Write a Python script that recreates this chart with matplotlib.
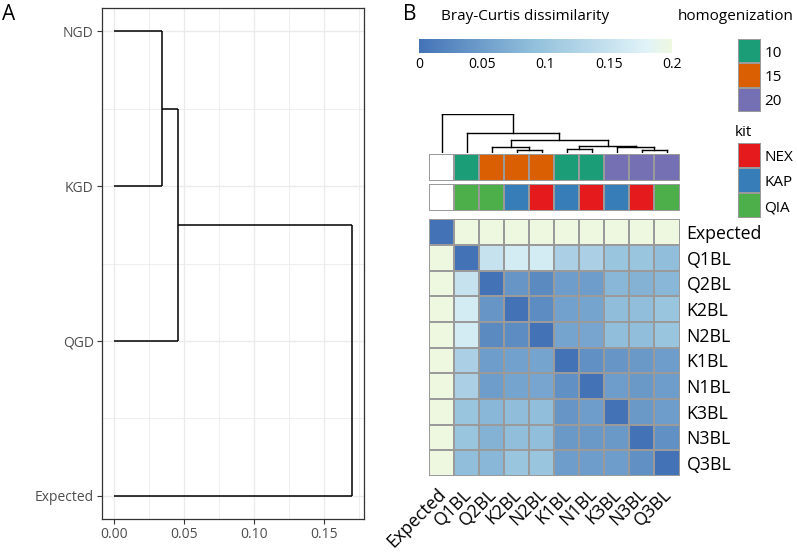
import numpy as np
import matplotlib
matplotlib.use("Agg")
import matplotlib.pyplot as plt
from matplotlib.colors import LinearSegmentedColormap, ListedColormap, Normalize, BoundaryNorm
from matplotlib.transforms import ScaledTranslation

# ------------------------------------------------------------------ data
# Panel A: group dendrogram (leaves bottom -> top)
group_labels = ["Expected", "QGD", "KGD", "NGD"]
group_merges = [(3, 2, 0.0341), (4, 1, 0.0459), (5, 0, 0.1702)]
group_xticks = [0.00, 0.05, 0.10, 0.15]
group_xticklabels = ["0.00", "0.05", "0.10", "0.15"]

# Panel B: sample dissimilarity heatmap (display order)
sample_labels = ["Expected", "Q1BL", "Q2BL", "K2BL", "N2BL",
                 "K1BL", "N1BL", "K3BL", "N3BL", "Q3BL"]
row_expected = [0.00, 0.23, 0.23, 0.23, 0.23, 0.23, 0.23, 0.23, 0.23, 0.23]
row_q1bl     = [0.23, 0.00, 0.150, 0.165, 0.165, 0.120, 0.120, 0.100, 0.100, 0.090]
row_q2bl     = [0.23, 0.150, 0.00, 0.040, 0.028, 0.050, 0.050, 0.080, 0.075, 0.080]
row_k2bl     = [0.23, 0.165, 0.040, 0.00, 0.030, 0.055, 0.058, 0.088, 0.090, 0.100]
row_n2bl     = [0.23, 0.165, 0.028, 0.030, 0.00, 0.058, 0.060, 0.090, 0.090, 0.100]
row_k1bl     = [0.23, 0.120, 0.050, 0.055, 0.058, 0.00, 0.035, 0.040, 0.045, 0.050]
row_n1bl     = [0.23, 0.120, 0.050, 0.058, 0.060, 0.035, 0.00, 0.050, 0.045, 0.050]
row_k3bl     = [0.23, 0.100, 0.080, 0.088, 0.090, 0.040, 0.050, 0.00, 0.045, 0.050]
row_n3bl     = [0.23, 0.100, 0.075, 0.090, 0.090, 0.045, 0.045, 0.045, 0.00, 0.035]
row_q3bl     = [0.23, 0.090, 0.080, 0.100, 0.100, 0.050, 0.050, 0.050, 0.035, 0.00]

# column dendrogram merges: (child a, child b, height); leaves 0..9, new nodes 10..
sample_merges = [(3, 4, 0.0155), (2, 10, 0.029), (8, 9, 0.0155), (7, 12, 0.029),
                 (5, 6, 0.021), (14, 13, 0.038), (11, 15, 0.068), (1, 16, 0.108),
                 (0, 17, 0.210)]

homogenization = [None, "10", "15", "15", "15", "10", "10", "20", "20", "20"]
kit = [None, "QIA", "QIA", "KAP", "NEX", "KAP", "NEX", "KAP", "NEX", "QIA"]
homog_levels = ["10", "15", "20"]
homog_colors = ["#1B9E77", "#D95F02", "#7570B3"]
kit_levels = ["NEX", "KAP", "QIA"]
kit_colors = ["#E41A1C", "#377EB8", "#4DAF4A"]

cbar_ticks = [0, 0.05, 0.1, 0.15, 0.2]
cbar_ticklabels = ["0", "0.05", "0.1", "0.15", "0.2"]

# ------------------------------------------------------------------ style
FONT = "Open Sans"
plt.rcParams["font.family"] = [FONT, "DejaVu Sans"]
W, H = 797, 558
fig = plt.figure(figsize=(W / 100, H / 100), dpi=100)


def px_axes(x0, y0, x1, y1):
    return fig.add_axes([x0 / W, 1 - y1 / H, (x1 - x0) / W, (y1 - y0) / H])


def dendro_segments(leaf_pos, merges):
    pos = list(leaf_pos)
    hgt = [0.0] * len(leaf_pos)
    segs = []
    for a, b, h in merges:
        segs.append(([pos[a], pos[a]], [hgt[a], h]))
        segs.append(([pos[b], pos[b]], [hgt[b], h]))
        segs.append(([pos[a], pos[b]], [h, h]))
        pos.append((pos[a] + pos[b]) / 2)
        hgt.append(h)
    return segs


# ------------------------------------------------------------------ panel A
axA = px_axes(102, 8, 364, 519)
ypos = np.arange(1, len(group_labels) + 1)
for p, h in dendro_segments(ypos, group_merges):
    axA.plot(h, p, color="black", lw=1.1, solid_capstyle="butt", zorder=3)
axA.set_xlim(-0.0086, 0.1787)
axA.set_ylim(0.85, 4.15)
axA.set_yticks(ypos)
axA.set_yticklabels(group_labels)
axA.set_xticks(group_xticks)
axA.set_xticklabels(group_xticklabels)
axA.set_xticks([0.025, 0.075, 0.125, 0.175], minor=True)
axA.set_yticks([1.5, 2.5, 3.5], minor=True)
axA.grid(True, which="major", color="#ebebeb", lw=1.0, zorder=0)
axA.grid(True, which="minor", color="#ebebeb", lw=0.6, zorder=0)
axA.set_axisbelow(True)
axA.tick_params(which="major", length=3.5, width=0.8, color="#333333",
                labelcolor="#4d4d4d", labelsize=10, pad=2.5)
axA.tick_params(which="minor", length=0)
for s in axA.spines.values():
    s.set_color("#333333")
    s.set_linewidth(0.9)
fig.text(2 / W, 1 - 15 / H, "A", fontsize=15, va="center", ha="left")

# ------------------------------------------------------------------ panel B
dist = np.array([row_expected, row_q1bl, row_q2bl, row_k2bl, row_n2bl,
                 row_k1bl, row_n1bl, row_k3bl, row_n3bl, row_q3bl])
n = len(sample_labels)
cmap = LinearSegmentedColormap.from_list(
    "bc", [(0.0, "#4373B6"), (0.45, "#91BFDB"), (0.9, "#E0F3F8"), (1.0, "#EEF7E0")])
norm = Normalize(vmin=0, vmax=0.2, clip=True)
GRID = "#9a9a9a"

axH = px_axes(429.3, 219.3, 679.5, 476)
mesh = axH.pcolormesh(np.arange(n + 1), np.arange(n + 1), dist, cmap=cmap, norm=norm,
                      edgecolors=GRID, linewidth=1.1)
axH.set_xlim(0, n)
axH.set_ylim(n, 0)
for s in axH.spines.values():
    s.set_visible(False)
axH.set_yticks(np.arange(n) + 0.5)
axH.set_yticklabels(sample_labels)
axH.yaxis.tick_right()
axH.set_xticks(np.arange(n) + 0.5)
axH.set_xticklabels(sample_labels, rotation=45, ha="right", va="top",
                    rotation_mode="default")
axH.tick_params(axis="both", length=0, labelsize=12.8, labelcolor="black")
axH.tick_params(axis="y", pad=5)
axH.tick_params(axis="x", pad=8)
shift = ScaledTranslation(8 / 100, 2 / 100, fig.dpi_scale_trans)
for lab in axH.get_xticklabels():
    lab.set_transform(lab.get_transform() + shift)


def annotation_row(y0, y1, values, levels, colors):
    ax = px_axes(429.3, y0, 679.5, y1)
    idx = [0 if v is None else levels.index(v) + 1 for v in values]
    acmap = ListedColormap(["white"] + colors)
    anorm = BoundaryNorm(np.arange(-0.5, len(colors) + 1.5), acmap.N)
    ax.pcolormesh(np.arange(n + 1), [0, 1], np.array([idx]), cmap=acmap, norm=anorm,
                  edgecolors=GRID, linewidth=1.1)
    ax.set_xlim(0, n)
    ax.set_ylim(1, 0)
    ax.axis("off")


annotation_row(154, 180.5, homogenization, homog_levels, homog_colors)
annotation_row(184, 210.5, kit, kit_levels, kit_colors)

# column dendrogram
axD = px_axes(429.3, 114.3, 679.5, 152.5)
for p, h in dendro_segments(np.arange(n) + 0.5, sample_merges):
    axD.plot(p, h, color="black", lw=1.0, solid_capstyle="projecting")
axD.set_xlim(0, n)
axD.set_ylim(0, sample_merges[-1][2])
axD.axis("off")

# colour bar
axC = px_axes(419.3, 39, 671.7, 53.3)
cb = fig.colorbar(mesh, cax=axC, orientation="horizontal")
cb.outline.set_visible(False)
cb.set_ticks(cbar_ticks)
cb.set_ticklabels(cbar_ticklabels)
axC.tick_params(length=0, labelsize=10, pad=3)
fig.text(441 / W, 1 - 16 / H, "Bray-Curtis dissimilarity", fontsize=11,
         va="center", ha="left")
fig.text(403 / W, 1 - 15 / H, "B", fontsize=15, va="center", ha="left")


def legend_block(y0, y1, title, title_x, title_y, levels, colors):
    ax = px_axes(738, y0, 761, y1)
    k = len(levels)
    ax.pcolormesh([0, 1], np.arange(k + 1), np.arange(k).reshape(k, 1),
                  cmap=ListedColormap(colors), edgecolors=GRID, linewidth=1.1)
    ax.set_xlim(0, 1)
    ax.set_ylim(k, 0)
    for s in ax.spines.values():
        s.set_visible(False)
    ax.set_xticks([])
    ax.set_yticks(np.arange(k) + 0.5)
    ax.set_yticklabels(levels)
    ax.yaxis.tick_right()
    ax.tick_params(axis="y", length=0, pad=2.5, labelsize=11)
    fig.text(title_x / W, 1 - title_y / H, title, fontsize=11, va="center", ha="left")


legend_block(39, 112, "homogenization", 678, 16, homog_levels, homog_colors)
legend_block(143, 218, "kit", 735, 132, kit_levels, kit_colors)

fig.savefig("out.png", dpi=100)
